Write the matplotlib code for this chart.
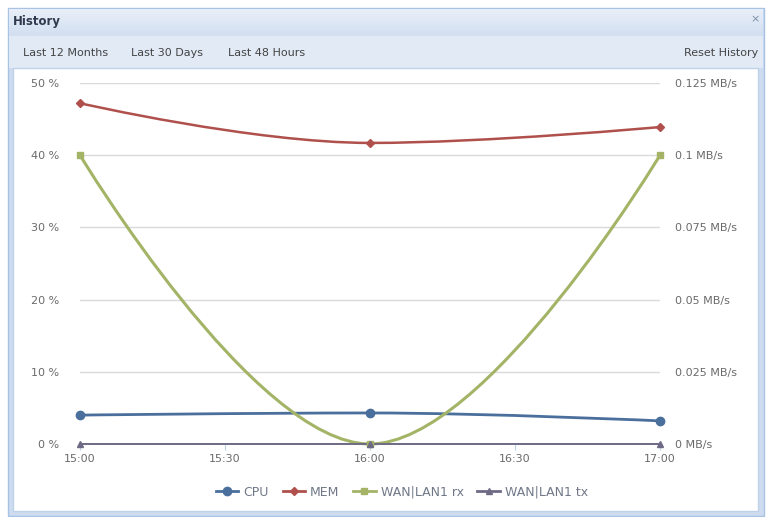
import matplotlib

matplotlib.use("Agg")
import matplotlib.pyplot as plt
import numpy as np
from matplotlib.lines import Line2D
from matplotlib.patches import PathPatch, Rectangle
from matplotlib.path import Path

W, H = 766, 517

# data (hourly samples 15:00, 16:00, 17:00)
sample_x = [0.0, 1.0, 2.0]
cpu = [4.0, 4.3, 3.2]
mem = [47.2, 41.7, 43.9]
wan_rx = [0.1, 0.0, 0.1]
wan_tx = [0.0, 0.0, 0.0]

x_ticks = [0.0, 0.5, 1.0, 1.5, 2.0]
x_labels = ["15:00", "15:30", "16:00", "16:30", "17:00"]
left_ticks = [0, 10, 20, 30, 40, 50]
left_labels = ["0 %", "10 %", "20 %", "30 %", "40 %", "50 %"]
right_ticks = [0, 0.025, 0.05, 0.075, 0.1, 0.125]
right_labels = ["0 MB/s", "0.025 MB/s", "0.05 MB/s", "0.075 MB/s", "0.1 MB/s", "0.125 MB/s"]

C_CPU = "#4a6f9c"
C_MEM = "#b0504c"
C_RX = "#a3b466"
C_TX = "#6e6a86"
TXT = "#6a6a6a"


def fx(px):
    return px / W


def fy(py):
    return 1 - py / H


def spline_path(xs, ys, smoothing=1.5):
    # highcharts-like spline (cubic bezier through the points)
    n = len(xs)
    conts = []
    for i in range(n):
        if i == 0 or i == n - 1:
            conts.append(((xs[i], ys[i]), (xs[i], ys[i])))
            continue
        d = smoothing + 1
        lx = (smoothing * xs[i] + xs[i - 1]) / d
        ly = (smoothing * ys[i] + ys[i - 1]) / d
        rx = (smoothing * xs[i] + xs[i + 1]) / d
        ry = (smoothing * ys[i] + ys[i + 1]) / d
        corr = (ry - ly) * (rx - xs[i]) / (rx - lx) + ys[i] - ry
        ly += corr
        ry += corr
        lo, hi = min(ys[i - 1], ys[i]), max(ys[i - 1], ys[i])
        if ly > hi:
            ly = hi
            ry = 2 * ys[i] - ly
        elif ly < lo:
            ly = lo
            ry = 2 * ys[i] - ly
        lo, hi = min(ys[i + 1], ys[i]), max(ys[i + 1], ys[i])
        if ry > hi:
            ry = hi
            ly = 2 * ys[i] - ry
        elif ry < lo:
            ry = lo
            ly = 2 * ys[i] - ry
        conts.append(((lx, ly), (rx, ry)))
    verts = [(xs[0], ys[0])]
    codes = [Path.MOVETO]
    for i in range(1, n):
        verts += [conts[i - 1][1], conts[i][0], (xs[i], ys[i])]
        codes += [Path.CURVE4] * 3
    return Path(verts, codes)


fig = plt.figure(figsize=(W / 100, H / 100), dpi=100)
fig.patch.set_facecolor("white")

# window frame
fig.patches.append(Rectangle((fx(8), fy(516)), fx(756), 508 / H, transform=fig.transFigure,
                             facecolor="#cddcf0", edgecolor="#a8c2e4", lw=1, zorder=0))
hdr = fig.add_axes([fx(9), fy(36), fx(754), 27 / H], zorder=1)
grad = np.linspace(0, 1, 50).reshape(-1, 1)
hdr.imshow(grad, aspect="auto", cmap=matplotlib.colors.LinearSegmentedColormap.from_list(
    "h", ["#e9eff8", "#d2dff1"]), extent=[0, 1, 0, 1])
hdr.axis("off")
fig.patches.append(Rectangle((fx(9), fy(68)), fx(754), 32 / H, transform=fig.transFigure,
                             facecolor="#e2eaf6", edgecolor="none", zorder=1))
fig.patches.append(Rectangle((fx(13), fy(511)), fx(745), 443 / H, transform=fig.transFigure,
                             facecolor="white", edgecolor="#c0d2e8", lw=1, zorder=1))

fig.text(fx(13), fy(21), "History", fontsize=8.5, fontweight="bold", color="#2f3a4e",
         va="center", ha="left", zorder=3)
fig.text(fx(760), fy(19), "×", fontsize=8, color="#8090a8", va="center", ha="right", zorder=3)
for label, px in [("Last 12 Months", 23), ("Last 30 Days", 131), ("Last 48 Hours", 228)]:
    fig.text(fx(px), fy(53), label, fontsize=8, color="#444444", va="center", ha="left",
             zorder=3)
fig.text(fx(758), fy(53), "Reset History", fontsize=8, color="#444444", va="center", ha="right",
         zorder=3)

# chart
ax = fig.add_axes([fx(80), fy(444), fx(580), (444 - 83) / H], zorder=2)
ax.patch.set_alpha(0)
ax2 = ax.twinx()

ax.set_xlim(0, 2)
ax.set_ylim(0, 50)
ax2.set_ylim(0, 0.125)

for a in (ax, ax2):
    for s in a.spines.values():
        s.set_visible(False)

ax.set_yticks(left_ticks)
ax.set_yticklabels(left_labels)
ax2.set_yticks(right_ticks)
ax2.set_yticklabels(right_labels)
ax.tick_params(axis="y", length=0, pad=15, labelsize=8, labelcolor=TXT)
ax2.tick_params(axis="y", length=0, pad=11, labelsize=8, labelcolor=TXT)
ax.set_xticks(x_ticks)
ax.set_xticklabels(x_labels)
ax.tick_params(axis="x", length=4, color="#c0d0e0", pad=3, labelsize=8, labelcolor=TXT)
ax.yaxis.grid(True, color="#dadada", lw=1)
ax.set_axisbelow(True)
ax.axhline(0, color="#b8b8c0", lw=1.2, zorder=1)

series = [
    (ax, cpu, C_CPU, "o", 6, 2, "CPU"),
    (ax, mem, C_MEM, "D", 4, 1.8, "MEM"),
    (ax2, wan_rx, C_RX, "s", 4, 2.2, "WAN|LAN1 rx"),
    (ax2, wan_tx, C_TX, "^", 4, 1.4, "WAN|LAN1 tx"),
]
handles = []
for a, vals, col, mk, ms, lw, name in series:
    a.add_patch(PathPatch(spline_path(sample_x, vals), fill=False, edgecolor=col, lw=lw,
                          transform=a.transData, zorder=3, clip_on=False))
    a.plot(sample_x, vals, ls="none", marker=mk, ms=ms, color=col, zorder=4, clip_on=False)
    handles.append(Line2D([], [], color=col, lw=2, marker=mk, ms=ms, label=name))

fig.legend(handles=handles, loc="center", bbox_to_anchor=(fx(402), fy(492)), ncol=4,
           frameon=False, fontsize=9, labelcolor="#707888", handlelength=1.8,
           handletextpad=0.4, columnspacing=1.1)

fig.savefig("out.png", dpi=100)
